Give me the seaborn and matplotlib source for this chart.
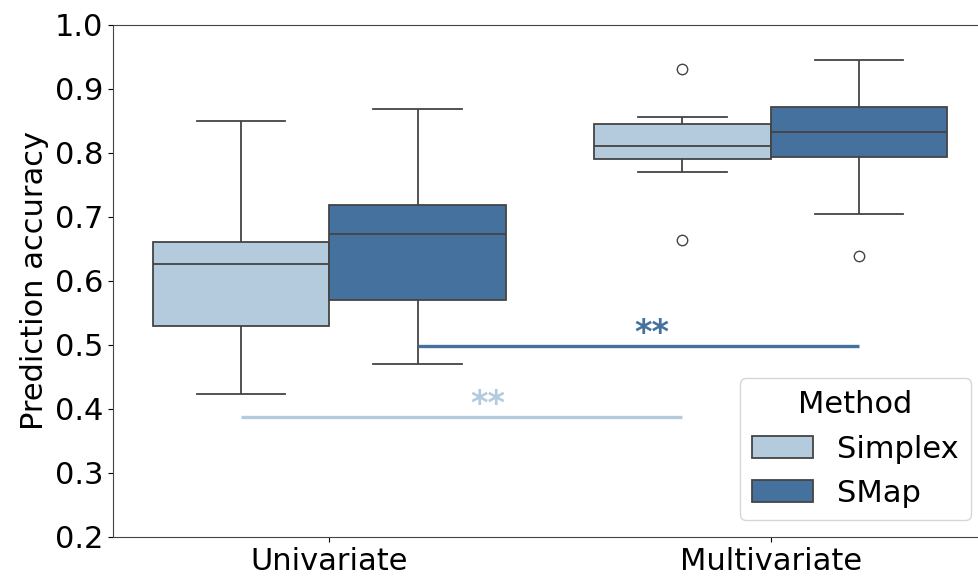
import numpy as np
import pandas as pd
import seaborn as sns
import matplotlib
matplotlib.use("Agg")
import matplotlib.pyplot as plt

categories = ["Univariate", "Multivariate"]
methods = ["Simplex", "SMap"]

# values (9 samples per group; quartiles fall on samples)
uni_simplex = [0.423, 0.48, 0.529, 0.60, 0.627, 0.645, 0.661, 0.75, 0.850]
uni_smap = [0.470, 0.52, 0.570, 0.64, 0.673, 0.70, 0.719, 0.80, 0.868]
multi_simplex = [0.664, 0.771, 0.791, 0.80, 0.811, 0.83, 0.845, 0.857, 0.931]
multi_smap = [0.639, 0.705, 0.794, 0.81, 0.833, 0.85, 0.872, 0.91, 0.946]

yticks = [0.2, 0.3, 0.4, 0.5, 0.6, 0.7, 0.8, 0.9, 1.0]
sig_labels = ["**", "**"]
sig_y = [0.387, 0.498]
colors = ["#b3cbdc", "#44719d"]

rows = []
for cat, groups in zip(categories, [(uni_simplex, uni_smap), (multi_simplex, multi_smap)]):
    for m, vals in zip(methods, groups):
        for v in vals:
            rows.append({"Type": cat, "Method": m, "Prediction accuracy": v})
df = pd.DataFrame(rows)

fig = plt.figure(figsize=(9.79, 5.78), dpi=100)
ax = fig.add_axes([113 / 979, 41 / 578, 874 / 979, 512 / 578])

sns.boxplot(data=df, x="Type", y="Prediction accuracy", hue="Method",
            order=categories, hue_order=methods, palette=colors,
            saturation=1, width=0.8, gap=0, linewidth=1.3, ax=ax,
            flierprops=dict(marker="o", markersize=7.5, markerfacecolor="white"))

ax.set_ylim(0.2, 1.0)
ax.set_yticks(yticks)
ax.set_yticklabels([f"{t:.1f}" for t in yticks])
ax.set_xlabel("")
ax.set_ylabel("Prediction accuracy", fontsize=22)
ax.tick_params(labelsize=22)
for s in ax.spines.values():
    s.set_color("#444444")

# significance lines connecting the same method across categories
offsets = [-0.2, 0.2]
text_shift = [0.06, 0.03]
for i in range(2):
    x0 = 0 + offsets[i]
    x1 = 1 + offsets[i]
    ax.plot([x0, x1], [sig_y[i], sig_y[i]], color=colors[i], lw=2.4, solid_capstyle="butt")
    ax.text((x0 + x1) / 2 + text_shift[i], sig_y[i] - 0.006, sig_labels[i], color=colors[i],
            ha="center", va="bottom", fontsize=24, fontweight="bold")

leg = ax.legend(title="Method", loc="lower right", fontsize=22, title_fontsize=22,
                bbox_to_anchor=(0.982, 0.033), borderaxespad=0, frameon=True)

fig.savefig("out.png", dpi=100)
